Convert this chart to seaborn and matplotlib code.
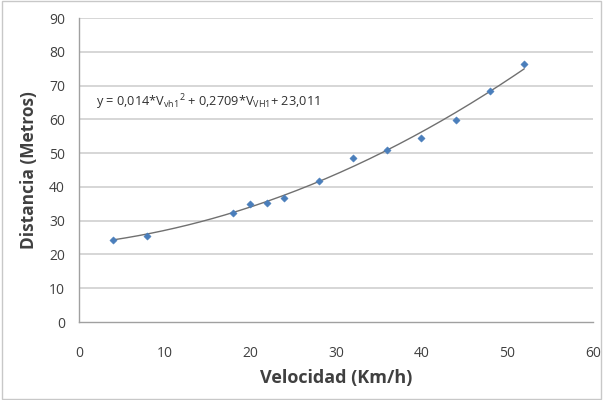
import numpy as np
import matplotlib
matplotlib.use("Agg")
import matplotlib.pyplot as plt
import seaborn as sns
import pandas as pd

velocidad = [4, 8, 18, 20, 22, 24, 28, 32, 36, 40, 44, 48, 52]
distancia = [24.3, 25.5, 32.3, 34.9, 35.2, 36.7, 41.7, 48.5, 50.9, 54.5, 59.8, 68.4, 76.4]
coef = [0.014, 0.2709, 23.011]
x_ticks = [0, 10, 20, 30, 40, 50, 60]
y_ticks = [0, 10, 20, 30, 40, 50, 60, 70, 80, 90]

sns.set_theme(style="white")
plt.rcParams['font.family'] = ['Open Sans', 'DejaVu Sans']
plt.rcParams['mathtext.fontset'] = 'custom'
plt.rcParams['mathtext.rm'] = 'Open Sans'
plt.rcParams['mathtext.it'] = 'Open Sans'

df = pd.DataFrame({"Velocidad": velocidad, "Distancia": distancia})
fig = plt.figure(figsize=(6.03, 4.0), dpi=100)
fig.patch.set_facecolor("white")
ax = fig.add_axes([0.131, 0.195, 0.852, 0.76])

for yv in y_ticks[1:]:
    ax.axhline(yv, color="#d0d0d0", lw=1.2, zorder=0)

xs = np.linspace(min(velocidad), max(velocidad), 200)
ys = coef[0] * xs**2 + coef[1] * xs + coef[2]
sns.lineplot(x=xs, y=ys, ax=ax, color="#707070", lw=1.0, zorder=2)
sns.scatterplot(data=df, x="Velocidad", y="Distancia", ax=ax, marker="D",
                s=14, color="#4a7ebb", edgecolor="#4a7ebb", zorder=3)

ax.set_xlim(0, 60)
ax.set_ylim(0, 90)
ax.set_xticks(x_ticks)
ax.set_yticks(y_ticks)
ax.tick_params(axis="x", pad=17, labelsize=10, colors="#404040", length=0)
ax.tick_params(axis="y", pad=10, labelsize=10, colors="#404040", length=0)
for s in ["top", "right"]:
    ax.spines[s].set_visible(False)
for s in ["left", "bottom"]:
    ax.spines[s].set_color("#a0a0a0")
    ax.spines[s].set_linewidth(1.0)

ax.set_xlabel("Velocidad (Km/h)", fontsize=13, fontweight="bold", color="#404040", labelpad=6)
ax.set_ylabel("Distancia (Metros)", fontsize=12.5, fontweight="bold", color="#404040", labelpad=8)

ax.text(2.0, 65.1, r"y = 0,014*V$_{vh1}$$^{2}$ + 0,2709*V$_{VH1}$+ 23,011",
        fontsize=9.2, color="#303030", va="center", ha="left")

border = plt.Rectangle((0.003, 0.003), 0.994, 0.994, transform=fig.transFigure,
                       fill=False, edgecolor="#c8c8c8", lw=1.0)
fig.patches.append(border)

fig.savefig("out.png", dpi=100)
